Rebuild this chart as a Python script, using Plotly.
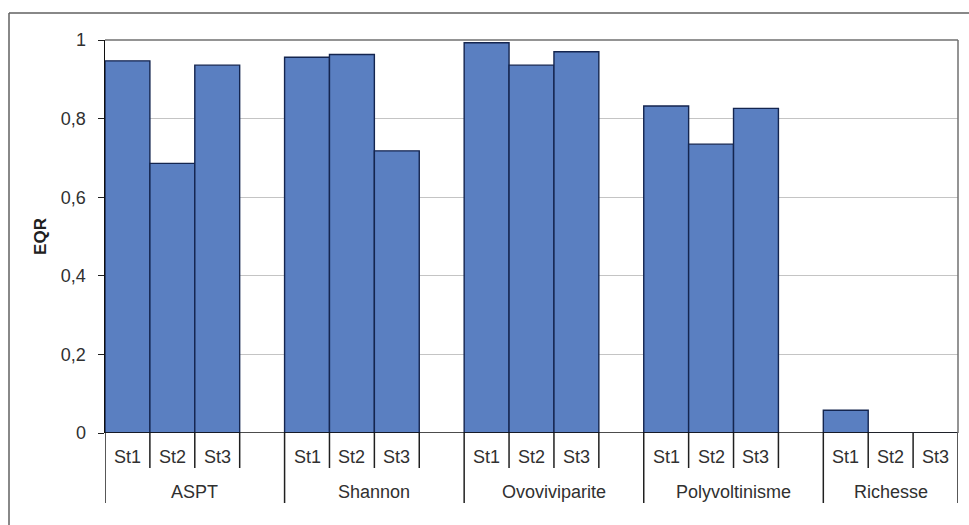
import plotly.graph_objects as go

# EQR per indicator and station
groups = ["ASPT", "Shannon", "Ovoviviparite", "Polyvoltinisme", "Richesse"]
stations = ["St1", "St2", "St3"]
aspt = [0.947, 0.686, 0.936]
shannon = [0.956, 0.963, 0.718]
ovoviviparite = [0.993, 0.936, 0.970]
polyvoltinisme = [0.832, 0.735, 0.826]
richesse = [0.058, 0.0, 0.0]
series = [aspt, shannon, ovoviviparite, polyvoltinisme, richesse]
y_ticks = [0, 0.2, 0.4, 0.6, 0.8, 1]

# each indicator takes 3 station slots plus one empty spacer slot
SLOT = 4
xs, ys, labels = [], [], []
for g, vals in enumerate(series):
    for s, v in enumerate(vals):
        xs.append(g * SLOT + s)
        ys.append(v)
        labels.append(stations[s])
n_slots = SLOT * (len(groups) - 1) + len(stations)
x_range = [-0.5, n_slots - 0.5]

# slot boundaries (short ticks) and indicator boundaries (long dividers)
inner_bounds = []
for g in range(len(groups)):
    for s in range(1, len(stations) + 1):
        inner_bounds.append(g * SLOT + s - 0.5)
group_bounds = [g * SLOT - 0.5 for g in range(len(groups))] + [n_slots - 0.5]
group_centers = []
for g in range(len(groups)):
    end = g * SLOT + (SLOT if g < len(groups) - 1 else len(stations))
    group_centers.append((g * SLOT - 0.5 + end - 0.5) / 2)

W, H = 969, 525
ML, MR, MT, MB = 105, 11, 40, 92
plot_h = H - MT - MB
plot_w = W - ML - MR

fig = go.Figure(
    go.Bar(
        x=xs,
        y=ys,
        width=1,
        marker=dict(color="#5a7fc1", line=dict(color="#14254f", width=1.4)),
        hoverinfo="skip",
    )
)

font_family = "Liberation Sans, Arial, sans-serif"
text_color = "#303030"
FS = 18
line_dark = "#202020"

shapes = []
# category axis line along y = 0
shapes.append(dict(type="line", xref="paper", yref="y", x0=0, x1=1, y0=0, y1=0,
                   line=dict(color="#101010", width=1.5)))
# short ticks between station slots
for b in inner_bounds:
    if b in group_bounds:
        continue
    shapes.append(dict(type="line", xref="x", yref="paper", x0=b, x1=b,
                       y0=0, y1=-35 / plot_h, line=dict(color=line_dark, width=1.5)))
# long dividers between indicator groups
for b in group_bounds:
    shapes.append(dict(type="line", xref="x", yref="paper", x0=b, x1=b,
                       y0=0, y1=-70 / plot_h, line=dict(color=line_dark, width=1.5)))
# plot area frame (top and right)
shapes.append(dict(type="line", xref="paper", yref="paper", x0=0, x1=1, y0=1, y1=1,
                   line=dict(color="#707070", width=1.5)))
shapes.append(dict(type="line", xref="paper", yref="paper", x0=1, x1=1, y0=0, y1=1,
                   line=dict(color="#707070", width=1.5)))
# chart area border: left and top edges (the rest falls outside the page)
bx = (9 - ML) / plot_w
by = 1 + 27 / plot_h
shapes.append(dict(type="line", xref="paper", yref="paper", x0=bx, x1=bx,
                   y0=-0.4, y1=by, line=dict(color="#606060", width=1.5)))
shapes.append(dict(type="line", xref="paper", yref="paper", x0=bx, x1=1.05,
                   y0=by, y1=by, line=dict(color="#606060", width=1.5)))

annotations = []
# station labels under each bar
for x, lab in zip(xs, labels):
    annotations.append(dict(x=x, y=0, xref="x", yref="paper", yshift=-24,
                            text=lab, showarrow=False, yanchor="middle",
                            font=dict(family=font_family, size=FS, color=text_color)))
# indicator labels under each group
for name, cx in zip(groups, group_centers):
    annotations.append(dict(x=cx, y=0, xref="x", yref="paper", yshift=-59,
                            text=name, showarrow=False, yanchor="middle",
                            font=dict(family=font_family, size=FS, color=text_color)))

fig.update_layout(
    width=W,
    height=H,
    margin=dict(l=ML, r=MR, t=MT, b=MB),
    paper_bgcolor="white",
    plot_bgcolor="white",
    separators=", ",
    showlegend=False,
    bargap=0,
    dragmode=False,
    font=dict(family=font_family, size=FS, color=text_color),
    xaxis=dict(
        range=x_range,
        visible=False,
        fixedrange=True,
    ),
    yaxis=dict(
        range=[0, 1],
        tickvals=y_ticks,
        tickformat=".1f",
        ticks="outside",
        ticklen=6,
        tickcolor=line_dark,
        ticklabelstandoff=8,
        showgrid=True,
        gridcolor="#c4c4c4",
        gridwidth=1,
        zeroline=False,
        showline=True,
        linecolor="#101010",
        linewidth=1.5,
        tickfont=dict(size=FS, color=text_color),
        title=dict(text="<b>EQR</b>", standoff=10,
                   font=dict(size=17, color=line_dark)),
        fixedrange=True,
    ),
    shapes=shapes,
    annotations=annotations,
)
fig.update_yaxes(labelalias={"0.0": "0", "1.0": "1", "0,0": "0", "1,0": "1"})

fig.write_html("out.html", config={"staticPlot": True})
